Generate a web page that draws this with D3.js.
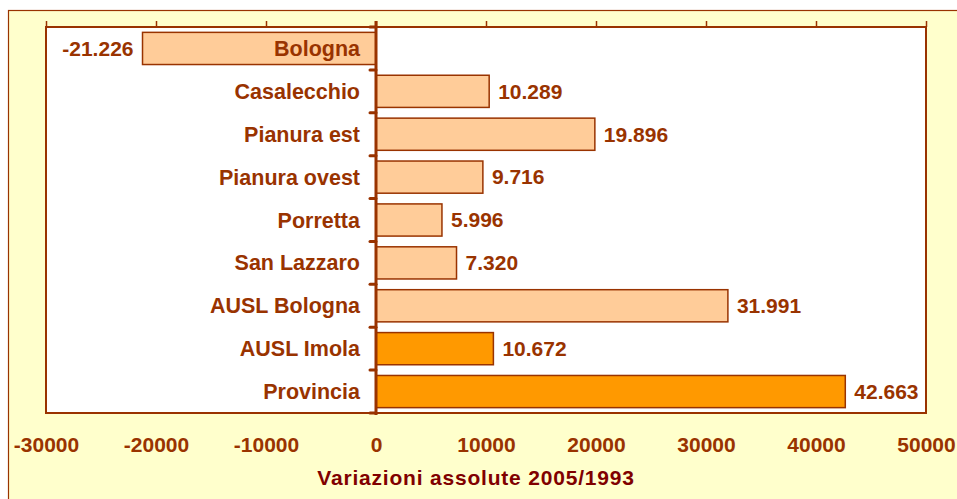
<!DOCTYPE html>
<html>
<head>
<meta charset="utf-8">
<script src="https://cdn.jsdelivr.net/npm/d3@7"></script>
<style>
  body { margin: 0; background: #fff; }
  text { font-family: "Liberation Sans", Arial, sans-serif; font-weight: bold; }
</style>
</head>
<body>
<div id="chart"></div>
<script>
// dati: variazioni assolute 2005/1993
const categories = ['Bologna', 'Casalecchio', 'Pianura est', 'Pianura ovest', 'Porretta',
  'San Lazzaro', 'AUSL Bologna', 'AUSL Imola', 'Provincia']
const values = [-21226, 10289, 19896, 9716, 5996, 7320, 31991, 10672, 42663]
const highlighted = ['AUSL Imola', 'Provincia']
const xTicks = [-30000, -20000, -10000, 0, 10000, 20000, 30000, 40000, 50000]
const xTitle = 'Variazioni assolute 2005/1993'

const W = 957
const H = 499
const brown = '#993300'
const plot = {left: 46, top: 27, right: 926, bottom: 413}

const it = d3.formatLocale({decimal: ',', thousands: '.', grouping: [3], currency: ['€', ''], minus: '-'})
const fmt = it.format(',d')
const tickFmt = it.format('d')

const svg = d3.select('#chart').append('svg')
  .attr('width', W)
  .attr('height', H)

// cornice esterna
svg.append('rect')
  .attr('x', 8.5).attr('y', 10.5)
  .attr('width', 980).attr('height', 520)
  .attr('fill', '#FFFFCC')
  .attr('stroke', brown)
  .attr('stroke-width', 1.2)

svg.append('rect')
  .attr('x', plot.left).attr('y', plot.top)
  .attr('width', plot.right - plot.left).attr('height', plot.bottom - plot.top)
  .attr('fill', '#fff')
  .attr('stroke', brown)
  .attr('stroke-width', 2)

let x = d3.scaleLinear().domain([-30000, 50000]).range([plot.left, plot.right])
let y = d3.scaleBand().domain(categories).range([plot.top, plot.bottom]).paddingInner(0.25).paddingOuter(0.125)

// tacche in alto
let topAxis = svg.append('g')
  .attr('transform', `translate(0,${plot.top})`)
  .call(d3.axisTop(x).tickValues(xTicks).tickSize(6).tickFormat(''))
topAxis.select('.domain').remove()
topAxis.selectAll('line').attr('stroke', brown).attr('stroke-width', 1.5)

// etichette asse x
let bottomAxis = svg.append('g')
  .attr('transform', `translate(0,${plot.bottom})`)
  .call(d3.axisBottom(x).tickValues(xTicks).tickSize(0).tickPadding(24).tickFormat(tickFmt))
bottomAxis.select('.domain').remove()
bottomAxis.selectAll('text')
  .attr('fill', brown)
  .style('font-size', '21px')

svg.append('text')
  .attr('x', 476)
  .attr('y', 485)
  .attr('text-anchor', 'middle')
  .attr('fill', '#800000')
  .style('font-size', '21px')
  .style('letter-spacing', '0.8px')
  .text(xTitle)

let bar = svg.selectAll('.bar')
  .data(categories)
  .enter()
  .append('g')
  .attr('class', 'bar')

bar.append('rect')
  .attr('x', (d, i) => x(Math.min(0, values[i])))
  .attr('y', d => y(d))
  .attr('width', (d, i) => Math.abs(x(values[i]) - x(0)))
  .attr('height', y.bandwidth())
  .attr('fill', d => highlighted.includes(d) ? '#FF9900' : '#FFCC99')
  .attr('stroke', brown)
  .attr('stroke-width', 1.5)

bar.append('text')
  .text((d, i) => fmt(values[i]))
  .attr('x', (d, i) => values[i] < 0 ? x(values[i]) - 9 : x(values[i]) + 9)
  .attr('y', d => y(d) + y.bandwidth() / 2)
  .attr('dy', '0.35em')
  .attr('text-anchor', (d, i) => values[i] < 0 ? 'end' : 'start')
  .attr('fill', brown)
  .style('font-size', '21px')

bar.append('text')
  .text(d => d)
  .attr('x', x(0) - 16)
  .attr('y', d => y(d) + y.bandwidth() / 2)
  .attr('dy', '0.35em')
  .attr('text-anchor', 'end')
  .attr('fill', brown)
  .style('font-size', '21.5px')

// asse verticale sullo zero
let step = y.step()
let yAxis = svg.append('g')
svg.append('line')
  .attr('x1', x(0)).attr('x2', x(0))
  .attr('y1', plot.top - 6).attr('y2', plot.bottom + 2)
  .attr('stroke', brown)
  .attr('stroke-width', 3)
yAxis.selectAll('line')
  .data(d3.range(categories.length + 1))
  .enter()
  .append('line')
  .attr('x1', x(0) - 6).attr('x2', x(0))
  .attr('y1', i => plot.top + i * step)
  .attr('y2', i => plot.top + i * step)
  .attr('stroke', brown)
  .attr('stroke-width', 3)
  .attr('stroke-linecap', 'round')
</script>
</body>
</html>
